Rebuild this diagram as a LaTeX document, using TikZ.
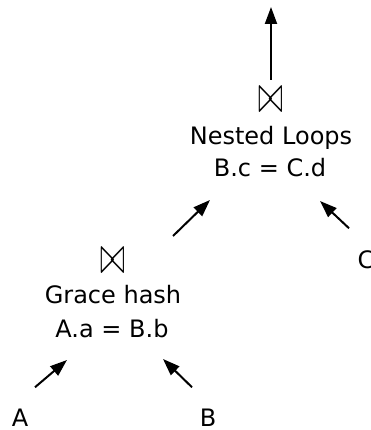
\documentclass[tikz,border=0pt]{standalone}
\usepackage{fontspec}
\setmainfont{DejaVu Sans}
\usetikzlibrary{arrows.meta,calc}
\begin{document}
\begin{tikzpicture}[x=1pt,y=-1pt,
  lbl/.style={font=\fontsize{24}{27}\selectfont, inner sep=0pt, anchor=base},
  joinsym/.style={font=\fontsize{20}{22}\selectfont, inner sep=0pt},
  arr/.style={line width=2pt, -{Triangle[length=17pt,width=12pt]}}]
  \useasboundingbox (0,0) rectangle (370,430);

  % upper join: nested loops
  \node[joinsym] (nlj) at (271,100) {\scalebox{1.45}[2.6]{$\bowtie$}};
  \node[lbl] (nl) at (271,145) {Nested Loops};
  \node[lbl] (nlc) at (270,177) {B.c = C.d};
  \coordinate (out) at (271,7);

  % lower join: grace hash
  \node[joinsym] (ghj) at (113,261) {\scalebox{1.45}[2.6]{$\bowtie$}};
  \node[lbl] (gh) at (113,303) {Grace hash};
  \node[lbl] (ghc) at (112,337) {A.a = B.b};

  % base relations
  \node[lbl] (A) at (20,426) {A};
  \node[lbl] (B) at (208,426) {B};
  \node[lbl] (C) at (366,268) {C};

  % arrow end points
  \coordinate (ghout) at ($(ghj)+(60,-25)$);
  \coordinate (nlin1) at (210,200);
  \coordinate (nlin2) at (320,201);
  \coordinate (ghin1) at (67,360);
  \coordinate (ghin2) at (163,359);

  \draw[arr] ($(nlj)+(0,-20)$) -- (out);
  \draw[arr] (ghout) -- (nlin1);
  \draw[arr] ($(C)+(-17,-31)$) -- (nlin2);
  \draw[arr] ($(A)+(15,-30)$) -- (ghin1);
  \draw[arr] ($(B)+(-16,-30)$) -- (ghin2);
\end{tikzpicture}
\end{document}
